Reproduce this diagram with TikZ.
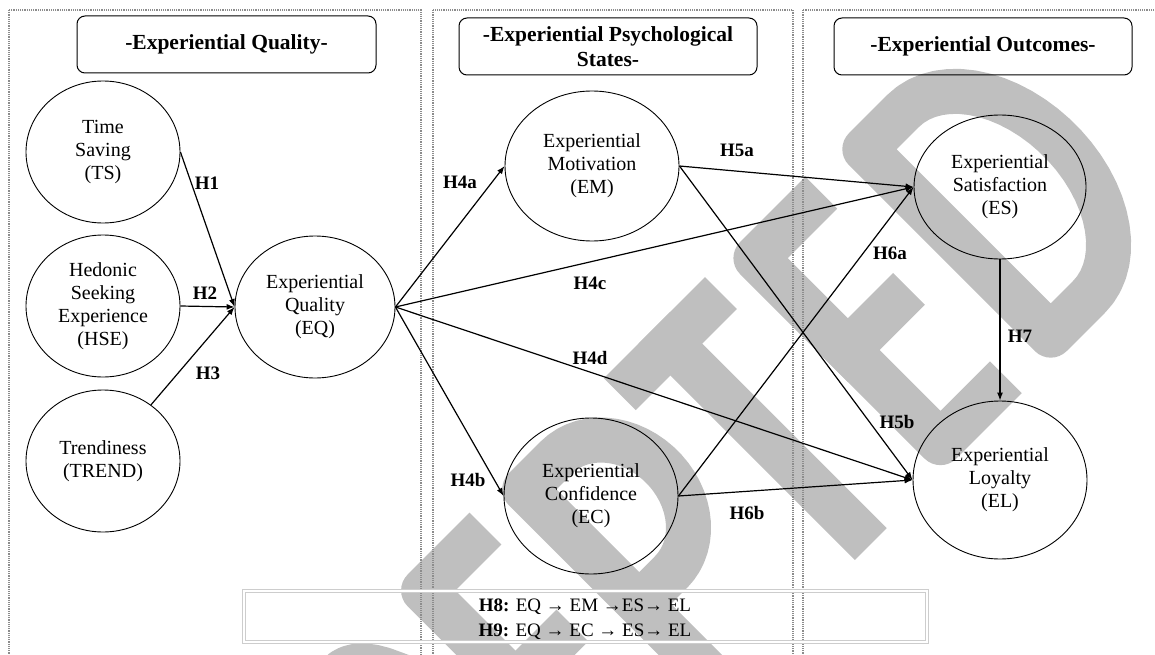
\documentclass[tikz,border=0pt]{standalone}
\usepackage{fontspec}
\setmainfont{Liberation Serif}
\usetikzlibrary{arrows.meta,shapes.geometric}
\definecolor{wm}{RGB}{191,191,191}
\definecolor{panelc}{RGB}{140,140,140}
\definecolor{boxc}{RGB}{205,205,205}
\begin{document}
\begin{tikzpicture}[x=1pt,y=-1pt,
  latent/.style={ellipse, draw, line width=0.9pt, inner sep=0pt, align=center, font=\fontsize{20}{23}\selectfont},
  titlebox/.style={draw, rounded corners=8pt, line width=1pt, align=center, inner sep=0pt, font=\bfseries\fontsize{21.5}{25}\selectfont},
  hyp/.style={-{Latex[length=8pt,width=6pt]}, line width=1.2pt},
  hlab/.style={font=\bfseries\fontsize{19}{22}\selectfont, inner sep=0pt},
  panel/.style={draw=panelc, densely dotted, line width=1.2pt},
  wmstroke/.style={draw=wm, line width=45pt, line cap=rect, line join=round}
]
\useasboundingbox (0,0) rectangle (1155,655);
\clip (0,0) rectangle (1155,655);

% watermark
\begin{scope}[rotate=45, wmstroke]
  % A
  \draw (-669,978) -- (-600,717) -- (-531,978);
  \draw (-650,900) -- (-550,900);
  % C
  \draw plot[domain=45:315, samples=40, variable=\t] ({-415+53*cos(\t)},{847-130*sin(\t)});
  % C
  \draw plot[domain=45:315, samples=40, variable=\t] ({-235+53*cos(\t)},{847-130*sin(\t)});
  % E
  \draw (-53,717) -- (-118,717) -- (-118,978) -- (-53,978);
  \draw (-118,847) -- (-60,847);
  % P
  \draw (25,978) -- (25,717) -- (70,717) -- plot[domain=-90:90, samples=30, variable=\t] ({70+68*cos(\t)},{798+81*sin(\t)}) -- (25,879);
  % T
  \draw (182,717) -- (280,717);
  \draw (231,717) -- (231,978);
  % E
  \draw (422,717) -- (352,717) -- (352,978) -- (422,978);
  \draw (352,847) -- (416,847);
  % D
  \draw (560,980) -- (506,980) -- (506,717) -- (560,717) -- plot[domain=-90:90, samples=30, variable=\t] ({560+90*cos(\t)},{848.5+131.5*sin(\t)}) -- cycle;
\end{scope}

% panels
\draw[panel] (9,10) rectangle (421,670);
\draw[panel] (433,10) rectangle (793,670);
\draw[panel] (803,10) rectangle (1170,670);

% titles
\node[titlebox, minimum width=299pt, minimum height=57pt] (t1) at (226.5,44.5) {-Experiential Quality-};
\node[titlebox, minimum width=298pt, minimum height=57pt] (t2) at (608,46.5) {-Experiential Psychological\\States-};
\node[titlebox, minimum width=298pt, minimum height=57pt] (t3) at (983,46.5) {-Experiential Outcomes-};

% constructs
\node[latent, minimum width=154pt, minimum height=142pt] (TS) at (103,152) {Time\\Saving\\(TS)};
\node[latent, minimum width=154pt, minimum height=142pt] (HSE) at (103,306) {Hedonic\\Seeking\\Experience\\(HSE)};
\node[latent, minimum width=154pt, minimum height=142pt] (TREND) at (103,461) {Trendiness\\(TREND)};
\node[latent, minimum width=160pt, minimum height=142pt] (EQ) at (315,307) {Experiential\\Quality\\(EQ)};
\node[latent, minimum width=174pt, minimum height=150pt] (EM) at (592,166) {Experiential\\Motivation\\(EM)};
\node[latent, minimum width=174pt, minimum height=156pt] (EC) at (591,496) {Experiential\\Confidence\\(EC)};
\node[latent, minimum width=172pt, minimum height=144pt] (ES) at (1000,187) {Experiential\\Satisfaction\\(ES)};
\node[latent, minimum width=174pt, minimum height=158pt] (EL) at (1000,480) {Experiential\\Loyalty\\(EL)};

% paths
\draw[hyp] (TS.east) -- (EQ.west);
\draw[hyp] (HSE.east) -- (EQ.west);
\draw[hyp] (TREND) -- (EQ.west);
\draw[hyp] (EQ.east) -- (EM.west);
\draw[hyp] (EQ.east) -- (EC.west);
\draw[hyp] (EQ.east) -- (ES.west);
\draw[hyp] (EQ.east) -- (EL.west);
\draw[hyp] (EM.east) -- (ES.west);
\draw[hyp] (EM.east) -- (EL.west);
\draw[hyp] (EC.east) -- (ES.west);
\draw[hyp] (EC.east) -- (EL.west);
\draw[hyp] (ES.south) -- (EL.north);

% labels
\node[hlab] (lH1) at (207,183) {H1};
\node[hlab] (lH2) at (205,293) {H2};
\node[hlab] (lH3) at (208,373) {H3};
\node[hlab] (lH4a) at (460,182) {H4a};
\node[hlab] (lH4b) at (468,480) {H4b};
\node[hlab] (lH4c) at (590,283) {H4c};
\node[hlab] (lH4d) at (590,358) {H4d};
\node[hlab] (lH5a) at (737,150) {H5a};
\node[hlab] (lH5b) at (897,422) {H5b};
\node[hlab] (lH6a) at (890,253) {H6a};
\node[hlab] (lH6b) at (747,513) {H6b};
\node[hlab] (lH7) at (1020,336) {H7};

% mediation box
\node[draw=boxc, double, double distance=2pt, line width=0.7pt, minimum width=683pt, minimum height=51pt, inner sep=0pt] (hbox) at (585.5,616.5) {};
\node[font=\fontsize{19}{25}\selectfont, align=center, inner sep=0pt] (htext) at (585,619) {\textbf{H8:} EQ → EM →ES→ EL\\\textbf{H9:} EQ → EC → ES→ EL};
\end{tikzpicture}
\end{document}
